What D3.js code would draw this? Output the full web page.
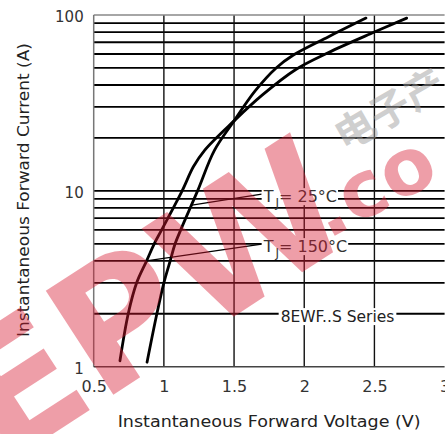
<!DOCTYPE html>
<html><head><meta charset="utf-8">
<script src="https://cdn.jsdelivr.net/npm/d3@7"></script>
<style>body{margin:0;background:#fff;overflow:hidden} svg{display:block}</style>
</head><body><svg id="c" width="445" height="434"></svg>
<script>
// ---- data ----
const xTicks = [0.5, 1, 1.5, 2, 2.5, 3];
const xTickLabels = ["0.5", "1", "1.5", "2", "2.5", "3"];
const yTicks = [1, 10, 100];
const yTickLabels = ["1", "10", "100"];
const yGrid = [2,3,4,5,6,7,8,9,10,20,30,40,50,60,70,80,90];
const xGrid = [1, 1.5, 2, 2.5];
// Tj = 25 C
const vf25 = [0.88, 0.95, 1.0, 1.045, 1.08, 1.12, 1.24, 1.36, 1.5, 1.65, 1.8, 1.92, 2.17, 2.44];
const if25 = [1.06, 2, 3, 4, 5, 6, 10, 17, 25, 37, 50, 59, 75, 96];
// Tj = 150 C
const vf150 = [0.687, 0.746, 0.806, 0.877, 0.931, 0.984, 1.13, 1.21, 1.29, 1.5, 1.7, 1.94, 2.17, 2.5, 2.73];
const if150 = [1.08, 2, 3, 4, 5, 6, 10, 13.7, 17, 25, 35, 49, 61, 80, 96];
const labels = ["25°C", "150°C"];
const labelAt = [[1.711, 9.33], [1.711, 4.85]];
const leaderTo = [[1.2, 8.3], [0.875, 4.0]];
const seriesName = "8EWF..S Series";
const seriesAt = [2.237, 1.94];
const xTitle = "Instantaneous Forward Voltage (V)";
const yTitle = "Instantaneous Forward Current (A)";

// ---- layout ----
const L = 93.7, R = 444.6, T = 15, B = 366.7;
const svg = d3.select("#c");
const FONT = "DejaVu Sans, sans-serif";
const x = d3.scaleLinear().domain([0.5, 3]).range([L, R]);
const y = d3.scaleLog().domain([1, 100]).range([B, T]);

// grid
svg.append("g").selectAll("line").data(yGrid).join("line")
  .attr("x1", L).attr("x2", R).attr("y1", d => y(d)).attr("y2", d => y(d))
  .attr("stroke", "#000").attr("stroke-width", 1.8);
svg.append("g").selectAll("line").data(xGrid).join("line")
  .attr("x1", d => x(d)).attr("x2", d => x(d)).attr("y1", T).attr("y2", B)
  .attr("stroke", "#111").attr("stroke-width", 1.4);
// frame
svg.append("line").attr("x1", L).attr("x2", R).attr("y1", T).attr("y2", T).attr("stroke", "#888").attr("stroke-width", 1.5);
svg.append("line").attr("x1", L).attr("x2", L).attr("y1", T).attr("y2", B).attr("stroke", "#777").attr("stroke-width", 1.5);
svg.append("line").attr("x1", L).attr("x2", R).attr("y1", B).attr("y2", B).attr("stroke", "#444").attr("stroke-width", 1.5);

// axes (labels only)
const xAxis = d3.axisBottom(x).tickValues(xTicks).tickFormat((d, i) => xTickLabels[i]).tickSize(0).tickPadding(14);
const gx = svg.append("g").attr("transform", `translate(0,${B})`).call(xAxis);
gx.select(".domain").remove();
gx.selectAll("text").attr("font-family", FONT).attr("font-size", 16).attr("fill", "#333");
const yAxis = d3.axisLeft(y).tickValues(yTicks).tickFormat((d, i) => yTickLabels[i]).tickSize(0).tickPadding(10);
const gy = svg.append("g").attr("transform", `translate(${L},0)`).call(yAxis);
gy.select(".domain").remove();
gy.selectAll("text").attr("font-family", FONT).attr("font-size", 15).attr("fill", "#333").attr("dy", "0.45em");

// titles
svg.append("text").attr("x", (L + R) / 2).attr("y", 427).attr("text-anchor", "middle")
  .attr("font-family", FONT).attr("font-size", 16).attr("fill", "#222")
  .attr("textLength", 303).attr("lengthAdjust", "spacingAndGlyphs").text(xTitle);
svg.append("text").attr("transform", `translate(29,${(43 + 337) / 2}) rotate(-90)`).attr("text-anchor", "middle")
  .attr("font-family", FONT).attr("font-size", 16).attr("fill", "#222")
  .attr("textLength", 294).attr("lengthAdjust", "spacingAndGlyphs").text(yTitle);

// curves
const line = d3.line().x(d => x(d[0])).y(d => y(d[1])).curve(d3.curveCatmullRom.alpha(0.5));
[[vf25, if25], [vf150, if150]].forEach(([v, c]) => {
  svg.append("path").datum(v.map((d, i) => [d, c[i]])).attr("d", line)
    .attr("fill", "none").attr("stroke", "#000").attr("stroke-width", 2.8).attr("stroke-linecap", "round");
});

// Tj labels
labels.forEach((lab, i) => {
  const [lx, ly] = labelAt[i];
  const px = x(lx), py = y(ly);
  svg.append("line").attr("x1", px - 2).attr("y1", py - 2)
    .attr("x2", x(leaderTo[i][0])).attr("y2", y(leaderTo[i][1]))
    .attr("stroke", "#000").attr("stroke-width", 1.3);
  const g = svg.append("g");
  const t = g.append("text").attr("x", px).attr("y", py + 6).attr("font-family", FONT).attr("font-size", 16).attr("fill", "#333");
  t.append("tspan").text("T");
  t.append("tspan").attr("dx", 2).attr("dy", 5).attr("font-size", 12).text("J");
  t.append("tspan").attr("dy", -5).text("= " + lab);
  const bb = t.node().getBBox();
  g.insert("rect", "text").attr("x", bb.x - 1).attr("y", py - 8).attr("width", bb.width + 2).attr("height", 17).attr("fill", "#fff");
});
// series label
{
  const px = x(seriesAt[0]), py = y(seriesAt[1]);
  const g = svg.append("g");
  const t = g.append("text").attr("x", px).attr("y", py + 6).attr("text-anchor", "middle")
    .attr("font-family", FONT).attr("font-size", 15.5).attr("fill", "#222").text(seriesName);
  const bb = t.node().getBBox();
  g.insert("rect", "text").attr("x", bb.x - 2).attr("y", py - 8).attr("width", bb.width + 4).attr("height", 17).attr("fill", "#fff");
}

// watermark (decoration, semi-transparent)
const wm = svg.append("g").attr("pointer-events", "none");
wm.append("text").attr("transform", "translate(150,300) rotate(-33)").attr("text-anchor", "middle")
  .attr("font-family", "DejaVu Sans, sans-serif").attr("font-weight", 900).attr("font-size", 170)
  .attr("fill", "rgba(214,24,48,0.42)").attr("dy", "0.35em").text("EPW");
wm.append("text").attr("transform", "translate(372,185) rotate(-28)").attr("text-anchor", "middle")
  .attr("font-family", "DejaVu Sans, sans-serif").attr("font-weight", 900).attr("font-size", 78)
  .attr("fill", "rgba(214,24,48,0.42)").attr("dy", "0.35em").text(".co");
wm.append("text").attr("transform", "translate(390,110) rotate(-30)").attr("text-anchor", "middle")
  .attr("font-family", "Noto Sans CJK SC, sans-serif").attr("font-weight", 700).attr("font-size", 40)
  .attr("fill", "rgba(160,160,160,0.5)").attr("dy", "0.35em").text("电子产");
</script></body></html>
